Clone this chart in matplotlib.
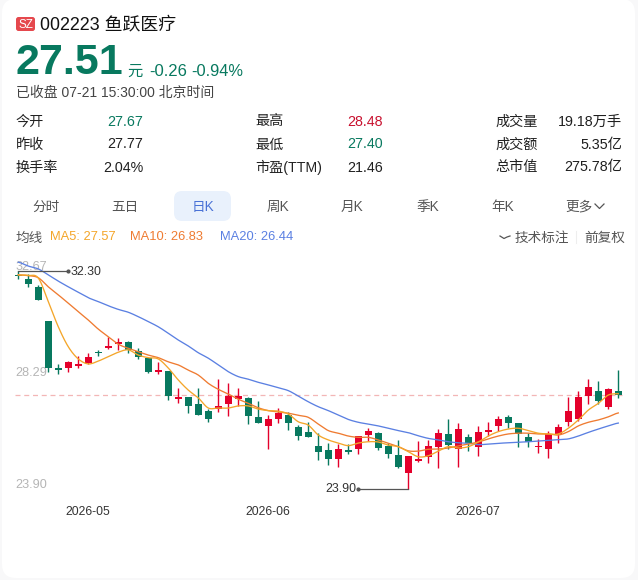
#!/usr/bin/env python
"""Daily K-line card for 002223 with MA5/MA10/MA20 and the quote header."""
import matplotlib

matplotlib.use("Agg")
import matplotlib.pyplot as plt
import numpy as np
from matplotlib.patches import FancyBboxPatch

plt.rcParams["font.family"] = ["Liberation Sans", "Noto Sans CJK SC", "DejaVu Sans"]

W, H = 638, 580
UP = "#e4002b"
DOWN = "#08795f"
MA5_C = "#f4a62a"
MA10_C = "#ef7b31"
MA20_C = "#5b80e2"
INK = "#1f1f1f"
GRAY = "#555555"

opens = [32.13, 31.98, 31.69, 30.37, 28.55, 28.57, 28.64, 28.74, 29.17, 29.33,
         29.49, 29.58, 29.23, 28.96, 28.42, 28.45, 27.38, 27.44, 27.16, 26.92,
         26.99, 27.16, 27.37, 27.39, 26.66, 26.31, 26.61, 26.76, 26.30, 26.09,
         25.57, 25.39, 25.05, 25.40, 25.44, 25.97, 26.06, 25.56, 25.21, 24.50,
         24.98, 25.14, 25.51, 26.01, 25.43, 25.90, 25.52, 26.11, 26.34, 26.66,
         26.43, 25.89, 25.51, 25.44, 26.02, 26.49, 26.60, 27.48, 27.68, 27.07, 27.67]
closes = [32.09, 31.79, 31.18, 28.55, 28.50, 28.78, 28.70, 29.00, 29.13, 29.40,
          29.55, 29.26, 28.97, 28.40, 28.48, 27.49, 27.43, 27.10, 26.76, 26.58,
          27.11, 27.49, 27.48, 26.70, 26.44, 26.58, 26.84, 26.45, 25.95, 25.91,
          25.32, 25.04, 25.44, 25.34, 25.95, 26.15, 25.47, 25.25, 24.73, 25.17,
          25.04, 25.57, 26.07, 25.59, 26.20, 25.66, 26.08, 26.18, 26.60, 26.45,
          26.02, 25.72, 25.56, 26.02, 26.30, 26.90, 27.46, 27.82, 27.29, 27.77, 27.51]
highs = [32.30, 32.17, 31.76, 30.37, 28.73, 28.83, 29.02, 29.13, 29.26, 29.74,
         29.71, 29.60, 29.32, 28.96, 28.78, 28.45, 27.80, 27.44, 27.78, 26.98,
         28.14, 28.00, 27.78, 27.43, 27.28, 26.76, 27.01, 26.88, 26.36, 26.49,
         26.05, 25.66, 25.62, 25.62, 25.95, 26.24, 26.08, 25.68, 25.79, 25.17,
         25.75, 25.79, 26.22, 26.60, 26.45, 26.02, 26.33, 26.49, 26.71, 26.75,
         26.43, 26.05, 25.83, 26.15, 26.39, 27.43, 27.69, 28.13, 28.07, 27.79, 28.48]
lows = [31.99, 31.69, 31.18, 28.42, 28.32, 28.42, 28.57, 28.70, 29.02, 29.28,
        29.26, 29.13, 28.90, 28.36, 28.32, 27.33, 27.20, 26.84, 26.76, 26.47,
        26.87, 26.71, 27.10, 26.41, 26.44, 25.44, 26.44, 26.17, 25.80, 25.91,
        25.02, 24.83, 24.76, 25.25, 25.25, 25.76, 25.40, 25.10, 24.71, 23.90,
        24.95, 24.89, 24.71, 25.43, 24.76, 25.37, 25.17, 25.94, 26.15, 26.26,
        25.53, 25.53, 25.27, 25.09, 25.66, 26.33, 26.52, 27.16, 27.17, 26.99, 27.40]
ma5 = [32.15, 32.13, 32.03, 31.12, 30.15, 29.38, 28.91, 28.72, 28.83, 29.00,
       29.17, 29.26, 29.06, 28.96, 28.91, 28.56, 28.10, 27.71, 27.41, 27.02,
       27.02, 27.02, 27.10, 27.10, 26.98, 26.92, 26.90, 26.79, 26.49, 26.36,
       25.98, 25.79, 25.67, 25.57, 25.67, 25.72, 25.71, 25.59, 25.53, 25.34,
       25.14, 25.18, 25.36, 25.53, 25.48, 25.53, 25.71, 25.94, 26.11, 26.21,
       26.24, 26.15, 26.05, 26.02, 26.02, 26.24, 26.56, 26.94, 27.20, 27.52, 27.57]
ma10 = [32.15, 32.12, 32.04, 31.69, 31.38, 31.06, 30.73, 30.41, 30.06, 29.77,
        29.48, 29.32, 29.19, 29.06, 28.96, 28.80, 28.68, 28.48, 28.29, 27.97,
        27.74, 27.56, 27.36, 27.20, 27.03, 26.92, 26.87, 26.82, 26.74, 26.66,
        26.40, 26.15, 26.05, 25.94, 25.89, 25.89, 25.79, 25.66, 25.53, 25.37,
        25.36, 25.43, 25.44, 25.48, 25.56, 25.63, 25.71, 25.83, 25.94, 26.02,
        26.05, 26.05, 26.02, 26.02, 25.98, 26.11, 26.33, 26.47, 26.56, 26.68, 26.83]
ma20 = [32.64, 32.49, 32.38, 32.15, 31.91, 31.69, 31.48, 31.27, 31.12, 30.96,
        30.82, 30.71, 30.54, 30.35, 30.15, 29.90, 29.64, 29.41, 29.15, 28.94,
        28.68, 28.42, 28.23, 28.13, 28.01, 27.91, 27.80, 27.69, 27.48, 27.26,
        27.07, 26.92, 26.75, 26.58, 26.47, 26.40, 26.33, 26.24, 26.15, 26.07,
        25.95, 25.85, 25.79, 25.72, 25.68, 25.66, 25.61, 25.63, 25.66, 25.68,
        25.70, 25.72, 25.75, 25.78, 25.80, 25.83, 25.94, 26.08, 26.21, 26.33, 26.44]
last_close = 27.51
date_idx = [7, 25, 46]
date_labels = ["2026-05", "2026-06", "2026-07"]
tabs = ["分时", "五日", "日K", "周K", "月K", "季K", "年K", "更多"]
tab_x = [46, 125, 203, 278, 352, 428, 503, 579]


def smooth(y, n=8):
    """Catmull-Rom through the daily values, same look as a smoothed line series."""
    y = np.asarray(y)
    p = np.r_[y[0], y, y[-1]]
    xs, ys = [], []
    for i in range(len(y) - 1):
        t = np.linspace(0, 1, n, endpoint=False)
        a, b, c, d = p[i:i + 4]
        ys.append(0.5 * (2 * b + (c - a) * t + (2 * a - 5 * b + 4 * c - d) * t ** 2
                         + (3 * b - a - 3 * c + d) * t ** 3))
        xs.append(i + t)
    return np.r_[np.concatenate(xs), len(y) - 1], np.r_[np.concatenate(ys), y[-1]]


fig = plt.figure(figsize=(W / 100, H / 100), dpi=100, facecolor="#f8f8f9")

# page layer in pixel coordinates
bg = fig.add_axes([0, 0, 1, 1])
bg.set_xlim(0, W)
bg.set_ylim(H, 0)
bg.axis("off")
bg.add_patch(FancyBboxPatch((2, -1), 633, 579, boxstyle="round,pad=0,rounding_size=14",
                            fc="white", ec="none"))


def txt(x, y, s, size=10, color=INK, ha="left", **kw):
    bg.text(x, y, s, fontsize=size, color=color, ha=ha, va="center", **kw)


# header
bg.add_patch(FancyBboxPatch((16, 17), 19, 14, boxstyle="round,pad=0,rounding_size=2.5",
                            fc="#e5484d", ec="none"))
txt(25.5, 24.6, "SZ", 8.4, "white", ha="center")
txt(40, 24.5, "002223 鱼跃医疗", 12.9, "#111111")
txt(15.5, 62.5, "27.51", 31, DOWN, fontweight="bold")
txt(127, 71.5, "元", 11, DOWN)
txt(149, 71.5, "-0.26", 12, DOWN)
txt(191.5, 71.5, "-0.94%", 11.8, DOWN)
txt(16, 93.5, "已收盘 07-21 15:30:00 北京时间", 10, "#444444")

# quote table
for x, y, s in [(16, 121, "今开"), (16, 144, "昨收"), (16, 167, "换手率"),
                (255, 121, "最高"), (255, 144, "最低"), (255, 167, "市盈(TTM)"),
                (495, 121, "成交量"), (495, 144, "成交额"), (495, 167, "总市值")]:
    txt(x, y + 0.5, s, 10.2, "#222222")
for x, y, s, c in [(143, 121, "27.67", DOWN), (143, 144, "27.77", INK), (143, 167, "2.04%", INK),
                   (383, 121, "28.48", "#c8102e"), (383, 144, "27.40", DOWN), (383, 167, "21.46", INK),
                   (622, 121, "19.18万手", INK), (622, 144, "5.35亿", INK), (622, 167, "275.78亿", INK)]:
    txt(x, y + 0.5, s, 10.3, c, ha="right")

# period tabs
bg.add_patch(FancyBboxPatch((174, 191), 57, 30, boxstyle="round,pad=0,rounding_size=8",
                            fc="#e9f1fc", ec="none"))
for x, s in zip(tab_x, tabs):
    txt(x, 206.5, s, 9.8, "#4a72d6" if s == "日K" else GRAY, ha="center")
bg.plot([595, 599.5, 604], [204, 208.5, 204], color=GRAY, lw=0.9)

# moving-average legend
txt(15, 237.5, "均线", 9.8, GRAY)
txt(49.5, 237.5, "MA5: 27.57", 9.3, MA5_C)
txt(130, 237.5, "MA10: 26.83", 9.3, MA10_C)
txt(220, 237.5, "MA20: 26.44", 9.3, MA20_C)
bg.plot([500, 504, 507, 510], [236, 238.5, 237, 236], color=GRAY, lw=0.9)
txt(515, 237.5, "技术标注", 9.8, GRAY)
bg.plot([576, 576], [231, 243], color="#eeeeee", lw=0.8)
txt(584, 237.5, "前复权", 9.8, GRAY)

# candlestick panel, one bar every 10 px
ax = fig.add_axes([8 / W, 1 - 495 / H, 620 / W, 235 / H])
ax.patch.set_alpha(0)
ax.set_xlim(-1.03, 60.97)
ax.set_ylim(23.668, 32.724)
for s in ax.spines.values():
    s.set_visible(False)
ax.set_yticks([])
ax.set_xticks(date_idx)
ax.set_xticklabels(date_labels, fontsize=8.8, color="#333333")
ax.tick_params(axis="x", length=0, pad=8)

ax.axhline(last_close, xmin=0.012, xmax=0.99, color="#f3b6b6", lw=0.9, ls=(0, (4, 3)), zorder=1)

for i, (o, h, l, c) in enumerate(zip(opens, highs, lows, closes)):
    col = UP if c >= o else DOWN
    ax.plot([i, i], [l, h], color=col, lw=1.0, solid_capstyle="butt", zorder=2)
    ax.bar(i, max(abs(c - o), 0.04), bottom=min(o, c), width=0.72, color=col, lw=0, zorder=3)

for vals, col in [(ma20, MA20_C), (ma10, MA10_C), (ma5, MA5_C)]:
    xs, ys = smooth(vals)
    ax.plot(xs, ys, color=col, lw=0.95, zorder=4)

# highest and lowest markers
hi = int(np.argmax(highs))
lo = int(np.argmin(lows))
ax.plot([hi, hi + 5], [highs[hi]] * 2, color=GRAY, lw=0.9, zorder=5)
ax.plot([hi + 5], [highs[hi]], "o", color=GRAY, ms=2, zorder=5)
ax.text(hi + 5.25, highs[hi] - 0.02, f"{highs[hi]:.2f}", fontsize=8.9, color="#333333", va="center")
ax.plot([lo - 5, lo], [lows[lo]] * 2, color=GRAY, lw=0.9, zorder=5)
ax.plot([lo - 5], [lows[lo]], "o", color=GRAY, ms=2, zorder=5)
ax.text(lo - 5.2, lows[lo] - 0.02, f"{lows[lo]:.2f}", fontsize=8.9, color="#333333", va="center", ha="right")

# price scale labels sit inside the plot
for y, s in [(267.5, "32.67"), (373.5, "28.29"), (485.5, "23.90")]:
    txt(15, y, s, 9.1, "#b5b5b5", zorder=6)

fig.savefig("out.png", dpi=100, facecolor=fig.get_facecolor())
